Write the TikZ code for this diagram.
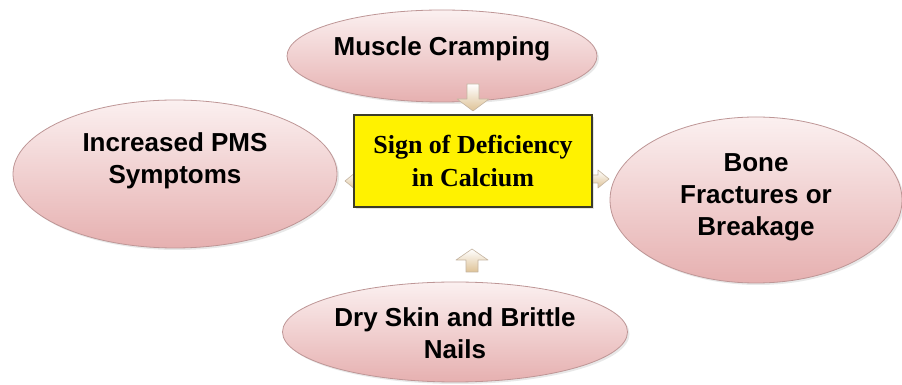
\documentclass[tikz,border=0pt]{standalone}
\usepackage{fontspec}
\setmainfont{Liberation Serif}
\setsansfont{Liberation Sans}
\usetikzlibrary{shapes.geometric,shadows}
\definecolor{pinktop}{RGB}{251,240,240}
\definecolor{pinkbot}{RGB}{230,176,176}
\definecolor{pinkline}{RGB}{190,150,150}
\definecolor{arrtop}{RGB}{255,255,255}
\definecolor{arrbot}{RGB}{222,194,150}
\definecolor{arrline}{RGB}{196,180,160}
\definecolor{boxline}{RGB}{60,60,40}
\tikzset{
  bubble/.style={ellipse, draw=pinkline, line width=0.8pt, top color=pinktop, bottom color=pinkbot,
    inner sep=0pt,
    drop shadow={opacity=0.18, shadow xshift=2pt, shadow yshift=-2pt}},
  bubbletext/.style={align=center, text=black, inner sep=0pt,
    font=\sffamily\bfseries\fontsize{26}{32}\selectfont},
  centerbox/.style={rectangle, draw=boxline, line width=1.2pt, fill=yellow, align=center,
    inner sep=0pt, font=\rmfamily\bfseries\fontsize{26}{33}\selectfont,
    drop shadow={opacity=0.2, shadow xshift=2pt, shadow yshift=-2pt}},
  blockarrow/.style={draw=arrline, line width=0.6pt, top color=arrtop, bottom color=arrbot,
    line join=round}
}
\begin{document}
\begin{tikzpicture}[x=1pt,y=1pt]
\useasboundingbox[fill=white] (0,0) rectangle (902,385);
% ellipses
\node[bubble, minimum width=310pt, minimum height=92pt] (top) at (442,329) {};
\node[bubble, minimum width=324pt, minimum height=148pt] (left) at (175,211) {};
\node[bubble, minimum width=292pt, minimum height=166pt] (right) at (756,185) {};
\node[bubble, minimum width=345pt, minimum height=100pt] (bottom) at (455,53) {};
% texts
\node[bubbletext] (toptext) at ([yshift=7pt]top.center) {Muscle Cramping};
\node[bubbletext] (lefttext) at ([yshift=13pt]left.center) {Increased PMS\\Symptoms};
\node[bubbletext] (righttext) at ([yshift=3pt]right.center) {Bone\\Fractures or\\Breakage};
\node[bubbletext] (bottomtext) at ([yshift=-1pt]bottom.center) {Dry Skin and Brittle\\Nails};
% block arrows
\path[blockarrow] (467,301) -- (479,301) -- (479,286) -- (489,286) -- (473,274) -- (457,286) -- (467,286) -- cycle;
\path[blockarrow] (466,113) -- (478,113) -- (478,125) -- (488,125) -- (472,136) -- (456,125) -- (466,125) -- cycle;
\path[blockarrow] (368,200) -- (356,200) -- (356,195) -- (345,204) -- (356,213) -- (356,208) -- (368,208) -- cycle;
\path[blockarrow] (588,202) -- (598,202) -- (598,197) -- (609,206) -- (598,215) -- (598,210) -- (588,210) -- cycle;
% center box
\node[centerbox, minimum width=238pt, minimum height=92pt] (center) at (473,224) {Sign of Deficiency\\in Calcium};
\end{tikzpicture}
\end{document}
